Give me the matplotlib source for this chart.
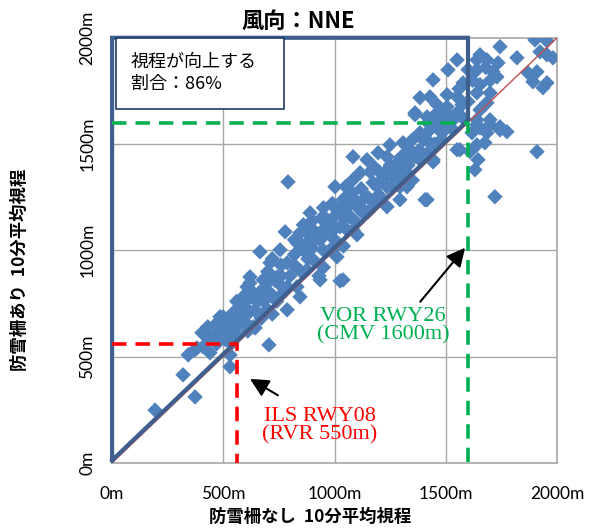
import matplotlib
matplotlib.use("Agg")
import matplotlib.pyplot as plt
from matplotlib.patches import Rectangle

# ---------------- data ----------------
pts = [
    # low region
    (193,248),(373,310),(319,414),(342,508),(373,532),(409,546),(440,518),(427,593),(472,659),(485,687),
    (530,452),(530,508),(705,555),(643,635),(575,734),(620,781),(566,682),(517,616),(463,579),(404,612),
    (382,541),(499,687),(544,706),(620,711),(589,781),(643,790),(710,800),(620,847),(697,847),(755,838),
    (517,640),(454,593),(634,640),(787,720),(831,828),(643,720),(535,560),(480,620),
    (560,600),(590,700),(610,620),(650,760),(680,820),(700,780),(730,860),(760,880),(740,760),(720,700),
    (670,680),(600,760),(540,660),(510,580),(470,560),(430,640),(560,760),
    # middle region
    (791,1322),(1002,1299),(890,1176),(778,1087),(665,993),(620,875),(607,828),(710,941),(787,941),(845,1082),
    (876,1035),(935,1049),(966,1144),(1011,1190),(1047,1238),(1079,1270),(1038,861),(935,861),(845,781),(787,828),
    (742,875),(679,861),(634,800),(831,1035),(876,908),(755,1002),(980,1002),(1011,969),(1070,1158),(1101,1205),
    (1056,1096),(1025,856),(930,880),
    (700,900),(720,960),(820,980),(860,1000),(900,1100),(940,1150),(990,1220),(1050,1300),(1120,1290),(1180,1390),
    (1250,1400),(1300,1440),(1350,1520),(900,960),(950,1000),(1000,1050),(1150,1180),(1200,1260),(1280,1360),(850,900),
    (800,880),(760,930),(680,760),(700,720),(560,640),(600,660),(660,700),(760,790),(1100,1130),(1180,1220),
    (820,930),(840,1040),(880,960),(900,1010),(920,1060),(960,1080),(980,1130),(1000,1160),(1030,1170),(1060,1210),
    (860,1120),(900,1140),(950,1200),(820,1050),(880,1080),(1000,1100),(1050,1150),(950,920),(990,1000),(1040,1020),
    # upper-middle region
    (1362,1638),(1416,1628),(1461,1647),(1510,1638),(1384,1553),(1429,1567),(1483,1553),(1533,1567),(1551,1473),(1416,1520),
    (1249,1496),(1308,1506),(1339,1473),(1083,1440),(1146,1426),(1196,1459),(1236,1440),(1281,1412),(1384,1426),(1443,1426),
    (1326,1459),(1115,1365),(1160,1369),(1083,1332),(1213,1332),(1263,1346),(1326,1365),(1173,1318),(1236,1299),(1294,1299),
    (1083,1247),(1040,1240),(1128,1238),(1191,1252),(1326,1299),(1294,1238),(1236,1205),(1416,1238),(1025,1190),(1070,1160),
    (1128,1176),(966,1144),(1025,1111),(1083,1096),(948,1096),(1101,1073),
    (1120,1200),(1150,1250),(1190,1300),(1230,1350),(1260,1300),(1300,1390),(1330,1400),(1360,1440),(1200,1370),(1240,1380),
    (1300,1330),(1350,1330),(1380,1470),(1420,1460),(1450,1500),(1480,1520),(1500,1600),(1530,1610),(1460,1580),(1420,1600),
    # upper-right region
    (1901,1990),(1955,1985),(1744,1958),(1654,1920),(1640,1896),(1685,1896),(1735,1882),(1820,1906),(1955,1920),(1924,1934),
    (1982,1906),(1551,1896),(1510,1849),(1640,1849),(1712,1840),(1730,1816),(1870,1835),(1910,1840),(1892,1793),(1955,1788),
    (1937,1765),(1443,1802),(1578,1788),(1654,1779),(1640,1741),(1699,1741),(1384,1718),(1429,1722),(1506,1732),(1551,1722),
    (1461,1685),(1506,1675),(1573,1685),(1685,1694),(1362,1647),(1488,1647),(1551,1647),(1654,1661),(1452,1614),(1640,1614),
    (1699,1614),(1744,1581),(1775,1558),(1654,1576),(1685,1553),(1618,1553),
    (1580,1620),(1600,1700),(1560,1760),(1620,1800),(1680,1860),(1700,1800),(1600,1850),
    # right of the CMV line
    (1640,1591),(1564,1473),(1609,1464),(1640,1496),(1676,1506),(1645,1426),(1631,1379),(1910,1464),(1721,1252),(1407,1238),
    (1443,1416),(1400,1520),(1744,1567),(1699,1591),
]
x_vals = [p[0] for p in pts]
y_vals = [p[1] for p in pts]

ticks = [0, 500, 1000, 1500, 2000]
tick_labels = ["0m", "500m", "1000m", "1500m", "2000m"]
ils_value = 560
cmv_value = 1600
title = "風向：NNE"
box_text = "視程が向上する\n割合：86%"
xlabel = "防雪柵なし  10分平均視程"
ylabel = "防雪柵あり  10分平均視程"

# ---------------- plot ----------------
JP = ["Noto Sans CJK JP", "DejaVu Sans"]
fig = plt.figure(figsize=(5.90, 5.32), dpi=100)
ax = fig.add_axes([0.190, 0.130, 0.754, 0.799])
ax.set_xlim(0, 2000)
ax.set_ylim(0, 2000)

grid_c = "#A6A6A6"
for t in ticks[1:-1]:
    ax.axvline(t, color=grid_c, lw=1, zorder=1)
    ax.axhline(t, color=grid_c, lw=1, zorder=1)
for s in ax.spines.values():
    s.set_color(grid_c)
    s.set_linewidth(1.2)

ax.scatter(x_vals, y_vals, marker="D", s=62, color="#4F81BD", edgecolors="none", zorder=3)

# y = x reference
ax.plot([0, 2000], [0, 2000], color="#C0504D", lw=1, zorder=4)

# thick navy region outline
ax.plot([0, cmv_value, cmv_value, 0, 0], [12, cmv_value + 12, 2000, 2000, 12],
        color="#3F5F8F", lw=3.0, zorder=5, clip_on=False, solid_joinstyle="miter")

# ILS / CMV dashed lines
ax.plot([0, ils_value, ils_value], [ils_value, ils_value, 0], color="#FF0000", lw=2.6,
        dashes=(4, 2.5), zorder=6)
ax.plot([0, cmv_value, cmv_value], [cmv_value, cmv_value, 0], color="#00B050", lw=2.6,
        dashes=(4, 2.5), zorder=6)

ax.set_xticks(ticks)
ax.set_yticks(ticks)
ax.set_xticklabels(tick_labels, family=["Lato", "DejaVu Sans"], fontsize=12.5)
ax.set_yticklabels(tick_labels, family=["Lato", "DejaVu Sans"], fontsize=12.5, rotation=90,
                   va="center")
ax.tick_params(axis="both", length=0)
ax.tick_params(axis="x", pad=17)
ax.tick_params(axis="y", pad=12)

# annotations
serif = ["Liberation Serif", "DejaVu Serif"]
ax.annotate("ILS RWY08\n(RVR 550m)", xy=(620, 395), xytext=(935, 175),
            ha="center", va="center", color="#FF0000", fontsize=16, family=serif,
            linespacing=1.0,
            arrowprops=dict(arrowstyle="-|>,head_length=0.7,head_width=0.35", color="black",
                            lw=1.5, shrinkA=12, shrinkB=0, relpos=(0.3, 1.0)), zorder=7)
ax.annotate("VOR RWY26\n(CMV 1600m)", xy=(1587, 1012), xytext=(1218, 645),
            ha="center", va="center", color="#00B050", fontsize=16, family=serif,
            linespacing=1.0,
            arrowprops=dict(arrowstyle="-|>,head_length=0.7,head_width=0.35", color="black",
                            lw=1.5, shrinkA=2, shrinkB=0, relpos=(0.75, 1.0)), zorder=7)

# text box
fig.patches.append(Rectangle((116/590, 1-109/532), (284-116)/590, (109-38)/532,
                             transform=fig.transFigure, facecolor="white",
                             edgecolor="#1F3864", lw=1.2, zorder=8))
fig.text(131/590, 1-73/532, box_text, family=JP, fontsize=13, va="center", ha="left",
         linespacing=1.35, zorder=9)

fig.text(298/590, 1-21/532, title, family=JP, fontsize=16, fontweight="bold",
         ha="center", va="center")
fig.text(310/590, 1-517/532, xlabel, family=JP, fontsize=12.5, fontweight="bold",
         ha="center", va="center")
fig.text(20/590, 1-270/532, ylabel, family=JP, fontsize=12.5, fontweight="bold",
         ha="center", va="center", rotation=90)

fig.savefig("out.png", dpi=100)
